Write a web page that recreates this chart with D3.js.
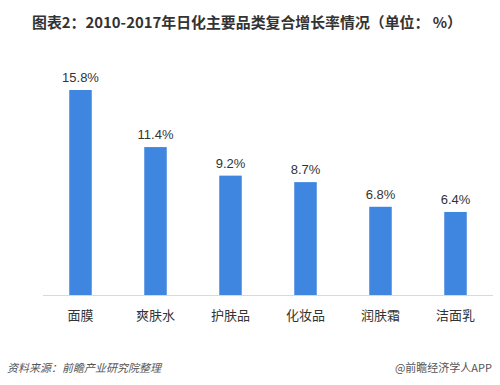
<!DOCTYPE html>
<html>
<head>
<meta charset="utf-8">
<script src="https://cdn.jsdelivr.net/npm/d3@7"></script>
<style>
  body { margin: 0; background: #fff; }
  text { font-family: "Noto Sans CJK SC", "Microsoft YaHei", sans-serif; }
  text.value { font-family: Arial, "Liberation Sans", sans-serif; }
</style>
</head>
<body>
<div id="chart"></div>
<script>
const categories = ["面膜", "爽肤水", "护肤品", "化妆品", "润肤霜", "洁面乳"];
const values = [15.8, 11.4, 9.2, 8.7, 6.8, 6.4];
const title = "图表2：2010-2017年日化主要品类复合增长率情况（单位： %）";
const source = "资料来源：前瞻产业研究院整理";
const credit = "@前瞻经济学人APP";

const width = 500;
const height = 385;
const marginLeft = 43;
const marginRight = 7;
const baseline = 295;

const svg = d3.select("#chart")
  .append("svg")
  .attr("width", width)
  .attr("height", height);

const x = d3.scaleBand()
  .domain(categories)
  .range([marginLeft, width - marginRight])
  .paddingInner(0.7)
  .paddingOuter(0.35);

const y = d3.scaleLinear()
  .domain([0, 15.8])
  .range([baseline, 90]);

svg.append("text")
  .attr("x", 247)
  .attr("y", 28)
  .attr("text-anchor", "middle")
  .attr("font-size", 14.5)
  .attr("font-weight", "bold")
  .attr("fill", "#333")
  .attr("textLength", 430)
  .attr("lengthAdjust", "spacingAndGlyphs")
  .text(title);

svg.append("g")
  .selectAll("rect")
  .data(values)
  .join("rect")
  .attr("x", (d, i) => x(categories[i]))
  .attr("y", (d) => y(d))
  .attr("width", x.bandwidth())
  .attr("height", (d) => baseline - y(d))
  .attr("fill", "#3f86e0");

svg.append("line")
  .attr("x1", marginLeft)
  .attr("x2", width - marginRight)
  .attr("y1", baseline + 0.5)
  .attr("y2", baseline + 0.5)
  .attr("stroke", "#d9d9d9");

svg.append("g")
  .selectAll("text")
  .data(values)
  .join("text")
  .attr("class", "value")
  .attr("x", (d, i) => x(categories[i]) + x.bandwidth() / 2)
  .attr("y", (d) => y(d) - 8)
  .attr("text-anchor", "middle")
  .attr("font-size", 13)
  .attr("fill", "#333")
  .text((d) => d.toFixed(1) + "%");

svg.append("g")
  .selectAll("text")
  .data(categories)
  .join("text")
  .attr("x", (d) => x(d) + x.bandwidth() / 2)
  .attr("y", 320)
  .attr("text-anchor", "middle")
  .attr("font-size", 13)
  .attr("fill", "#333")
  .text((d) => d);

svg.append("text")
  .attr("x", 7)
  .attr("y", 372)
  .attr("font-size", 11)
  .attr("font-style", "italic")
  .attr("fill", "#555")
  .text(source);

svg.append("text")
  .attr("x", 492)
  .attr("y", 372)
  .attr("text-anchor", "end")
  .attr("font-size", 11)
  .attr("fill", "#555")
  .text(credit);
</script>
</body>
</html>
